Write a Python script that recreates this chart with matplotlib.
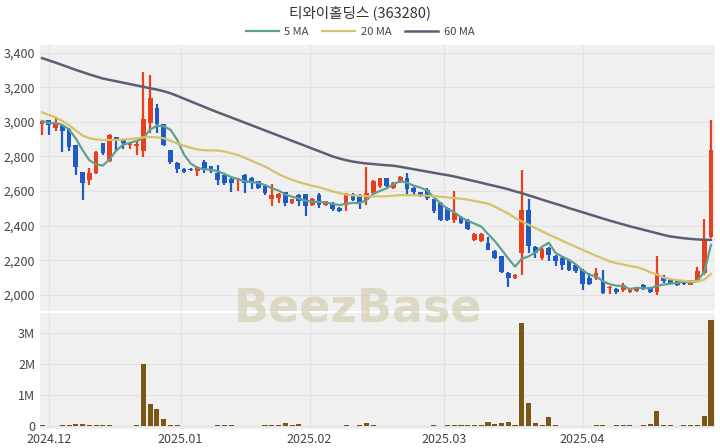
import matplotlib.pyplot as plt
import numpy as np
import pandas as pd

plt.rcParams["font.family"] = ["Noto Sans CJK KR", "DejaVu Sans"]

title = "티와이홀딩스 (363280)"

opens = [2990, 3010, 2965, 2975, 2960, 2865, 2710, 2665, 2705, 2875,
         2775, 2910, 2900, 2865, 2860, 2830, 2995, 3080, 2985, 2835,
         2760, 2730, 2730, 2713, 2765, 2742, 2705, 2690, 2670, 2663,
         2694, 2675, 2655, 2627, 2553, 2560, 2592, 2530, 2578, 2582,
         2518, 2578, 2522, 2530, 2500, 2521, 2582, 2578, 2549, 2590,
         2627, 2675, 2617, 2650, 2675, 2617, 2592, 2607, 2553, 2530,
         2500, 2430, 2450, 2434, 2318, 2310, 2298, 2256, 2222, 2125,
         2096, 2240, 2490, 2276, 2212, 2270, 2222, 2212, 2202, 2174,
         2145, 2100, 2096, 2077, 2040, 2035, 2030, 2015, 2022, 2057,
         2044, 2015, 2096, 2093, 2077, 2080, 2058, 2087, 2125, 2337]
highs = [3010, 3012, 3025, 2985, 2965, 2868, 2712, 2735, 2830, 2880,
         2930, 2915, 2902, 2885, 2895, 3285, 3270, 3105, 2990, 2838,
         2765, 2735, 2735, 2745, 2777, 2745, 2750, 2695, 2675, 2675,
         2700, 2680, 2660, 2630, 2640, 2590, 2595, 2556, 2585, 2585,
         2562, 2590, 2545, 2535, 2505, 2590, 2590, 2582, 2738, 2662,
         2678, 2678, 2650, 2685, 2704, 2622, 2595, 2617, 2556, 2535,
         2505, 2600, 2455, 2440, 2360, 2355, 2337, 2260, 2225, 2130,
         2118, 2723, 2553, 2280, 2270, 2275, 2228, 2218, 2206, 2178,
         2150, 2128, 2154, 2145, 2050, 2040, 2071, 2042, 2046, 2060,
         2046, 2222, 2116, 2096, 2080, 2083, 2088, 2160, 2440, 3012]
lows = [2925, 2925, 2945, 2825, 2830, 2695, 2550, 2635, 2700, 2810,
        2770, 2830, 2840, 2840, 2810, 2795, 2935, 2935, 2860, 2755,
        2705, 2705, 2718, 2688, 2704, 2705, 2636, 2636, 2592, 2600,
        2590, 2611, 2612, 2578, 2511, 2530, 2511, 2527, 2511, 2457,
        2512, 2500, 2511, 2482, 2478, 2482, 2545, 2495, 2521, 2585,
        2620, 2622, 2610, 2645, 2570, 2569, 2565, 2549, 2472, 2424,
        2428, 2415, 2410, 2372, 2312, 2305, 2258, 2205, 2125, 2048,
        2090, 2116, 2240, 2212, 2202, 2193, 2168, 2145, 2140, 2125,
        2030, 2055, 2087, 2004, 2006, 2005, 2019, 2010, 2018, 2030,
        2010, 2000, 2067, 2065, 2050, 2055, 2055, 2077, 2116, 2328]
closes = [3005, 2980, 2995, 2945, 2855, 2740, 2645, 2705, 2825, 2820,
          2925, 2895, 2875, 2880, 2870, 3015, 3135, 2985, 2865, 2770,
          2725, 2712, 2722, 2740, 2727, 2715, 2665, 2648, 2646, 2672,
          2646, 2648, 2617, 2590, 2578, 2582, 2532, 2553, 2540, 2512,
          2555, 2522, 2540, 2496, 2483, 2588, 2550, 2530, 2588, 2659,
          2675, 2627, 2646, 2679, 2612, 2592, 2570, 2560, 2482, 2435,
          2435, 2475, 2415, 2378, 2353, 2352, 2260, 2212, 2130, 2096,
          2115, 2490, 2280, 2241, 2264, 2231, 2193, 2174, 2145, 2135,
          2060, 2065, 2127, 2008, 2048, 2015, 2058, 2038, 2044, 2035,
          2015, 2125, 2078, 2070, 2055, 2060, 2085, 2140, 2318, 2839]
volumes = [0.02, 0.01, 0.01, 0.02, 0.02, 0.08, 0.07, 0.02, 0.02, 0.02,
           0.05, 0.01, 0.01, 0.01, 0.04, 2.02, 0.70, 0.55, 0.24, 0.04,
           0.03, 0.01, 0.01, 0.01, 0.01, 0.01, 0.02, 0.02, 0.02, 0.01,
           0.01, 0.01, 0.01, 0.02, 0.02, 0.02, 0.10, 0.03, 0.07, 0.01,
           0.01, 0.01, 0.01, 0.01, 0.01, 0.02, 0.01, 0.02, 0.09, 0.02,
           0.01, 0.01, 0.01, 0.01, 0.01, 0.01, 0.01, 0.01, 0.02, 0.01,
           0.02, 0.02, 0.02, 0.02, 0.02, 0.02, 0.12, 0.06, 0.10, 0.13,
           0.05, 3.33, 0.76, 0.09, 0.04, 0.28, 0.02, 0.01, 0.01, 0.01,
           0.01, 0.01, 0.02, 0.02, 0.01, 0.03, 0.03, 0.02, 0.01, 0.03,
           0.06, 0.48, 0.05, 0.05, 0.01, 0.04, 0.03, 0.03, 0.32, 3.42]

# 20 and 60 day averages (history before the window is not shown)
ma20 = [3055, 3040, 3025, 3005, 2980, 2950, 2920, 2905, 2898, 2895,
        2895, 2895, 2897, 2900, 2905, 2910, 2912, 2910, 2905, 2890,
        2875, 2862, 2850, 2840, 2836, 2835, 2834, 2828, 2818, 2808,
        2792, 2775, 2758, 2742, 2720, 2698, 2680, 2665, 2652, 2640,
        2630, 2622, 2610, 2598, 2588, 2580, 2575, 2572, 2570, 2569,
        2569, 2570, 2573, 2576, 2576, 2575, 2574, 2573, 2570, 2567,
        2563, 2559, 2555, 2550, 2542, 2535, 2527, 2510, 2490, 2470,
        2445, 2424, 2405, 2386, 2367, 2348, 2330, 2312, 2294, 2277,
        2260, 2243, 2226, 2210, 2193, 2183, 2175, 2167, 2160, 2148,
        2130, 2118, 2100, 2090, 2085, 2080, 2078, 2077, 2088, 2120]
ma60 = [3368, 3355, 3342, 3328, 3314, 3300, 3287, 3274, 3262, 3250,
        3242, 3234, 3226, 3218, 3210, 3202, 3194, 3186, 3177, 3165,
        3150, 3134, 3118, 3102, 3086, 3070, 3055, 3040, 3025, 3010,
        2995, 2980, 2965, 2950, 2935, 2920, 2905, 2890, 2875, 2860,
        2845, 2830, 2815, 2800, 2788, 2778, 2770, 2764, 2759, 2756,
        2752, 2749, 2746, 2740, 2733, 2726, 2719, 2712, 2705, 2698,
        2692, 2684, 2675, 2666, 2657, 2648, 2638, 2629, 2620, 2610,
        2598, 2588, 2575, 2563, 2550, 2538, 2526, 2514, 2501, 2489,
        2477, 2465, 2453, 2441, 2429, 2418, 2407, 2396, 2386, 2376,
        2366, 2356, 2346, 2337, 2332, 2327, 2323, 2320, 2318, 2318]

tick_pos = [1, 20.5, 39.6, 59.5, 80]
tick_labels = ["2024.12", "2025.01", "2025.02", "2025.03", "2025.04"]

up_color = "#e8401c"
down_color = "#1f5bc4"
bg = "#f0f0f0"

o = np.array(opens)
h = np.array(highs)
l = np.array(lows)
c = np.array(closes)
x = np.arange(len(c))
ma5 = pd.Series(c).rolling(5, min_periods=1).mean()

fig = plt.figure(figsize=(7.2, 4.48), dpi=100)
ax = fig.add_axes([0.0556, 0.306, 0.9375, 0.594])
axv = fig.add_axes([0.0556, 0.042, 0.9375, 0.259], sharex=ax)

for a in (ax, axv):
    a.set_facecolor(bg)
    for s in a.spines.values():
        s.set_visible(False)
    a.tick_params(length=0, labelsize=9, colors="#444444")
    a.grid(True, color="#e2e2e2", lw=0.8)
    a.set_axisbelow(True)

# candles
colors = np.where(c >= o, up_color, down_color)
ax.vlines(x, l, h, colors=colors, lw=1.6, zorder=2)
body_lo = np.minimum(o, c)
body_h = np.maximum(np.abs(c - o), 4)
ax.bar(x, body_h, bottom=body_lo, width=0.7, color=colors, zorder=3)

ax.plot(x, ma5, color="#5fa08e", lw=1.6, label="5 MA", zorder=4)
ax.plot(x, ma20, color="#d6c26a", lw=1.6, label="20 MA", zorder=4)
ax.plot(x, ma60, color="#5b5f75", lw=1.8, label="60 MA", zorder=4)

ax.set_ylim(1907, 3445)
ax.set_yticks(np.arange(2000, 3401, 200))
ax.set_yticklabels([f"{v:,}" for v in range(2000, 3401, 200)])
ax.set_xlim(-0.3, 99.6)
ax.set_xticks(tick_pos)
plt.setp(ax.get_xticklabels(), visible=False)

axv.bar(x, volumes, width=0.75, color="#7a5716", zorder=3)
axv.set_ylim(-0.1, 3.65)
axv.set_yticks([0, 1, 2, 3])
axv.set_yticklabels(["0", "1M", "2M", "3M"])
axv.set_xticks(tick_pos)
axv.set_xticklabels(tick_labels)
axv.tick_params(axis="x", pad=3)

fig.text(0.5, 1 - 13 / 448, title, ha="center", va="center", fontsize=10.5, color="#333333")
fig.legend(loc="center", bbox_to_anchor=(0.5, 1 - 32 / 448), ncol=3, frameon=False,
           fontsize=8, handlelength=3, columnspacing=1.2, labelcolor="#444444",
           borderpad=0, handletextpad=0.5)

fig.text(0.497, 0.31, "BeezBase", ha="center", va="center", fontsize=33,
         fontweight="bold", color="#cfc8a8", alpha=0.6, family="DejaVu Sans")

plt.savefig("out.png", dpi=100)
